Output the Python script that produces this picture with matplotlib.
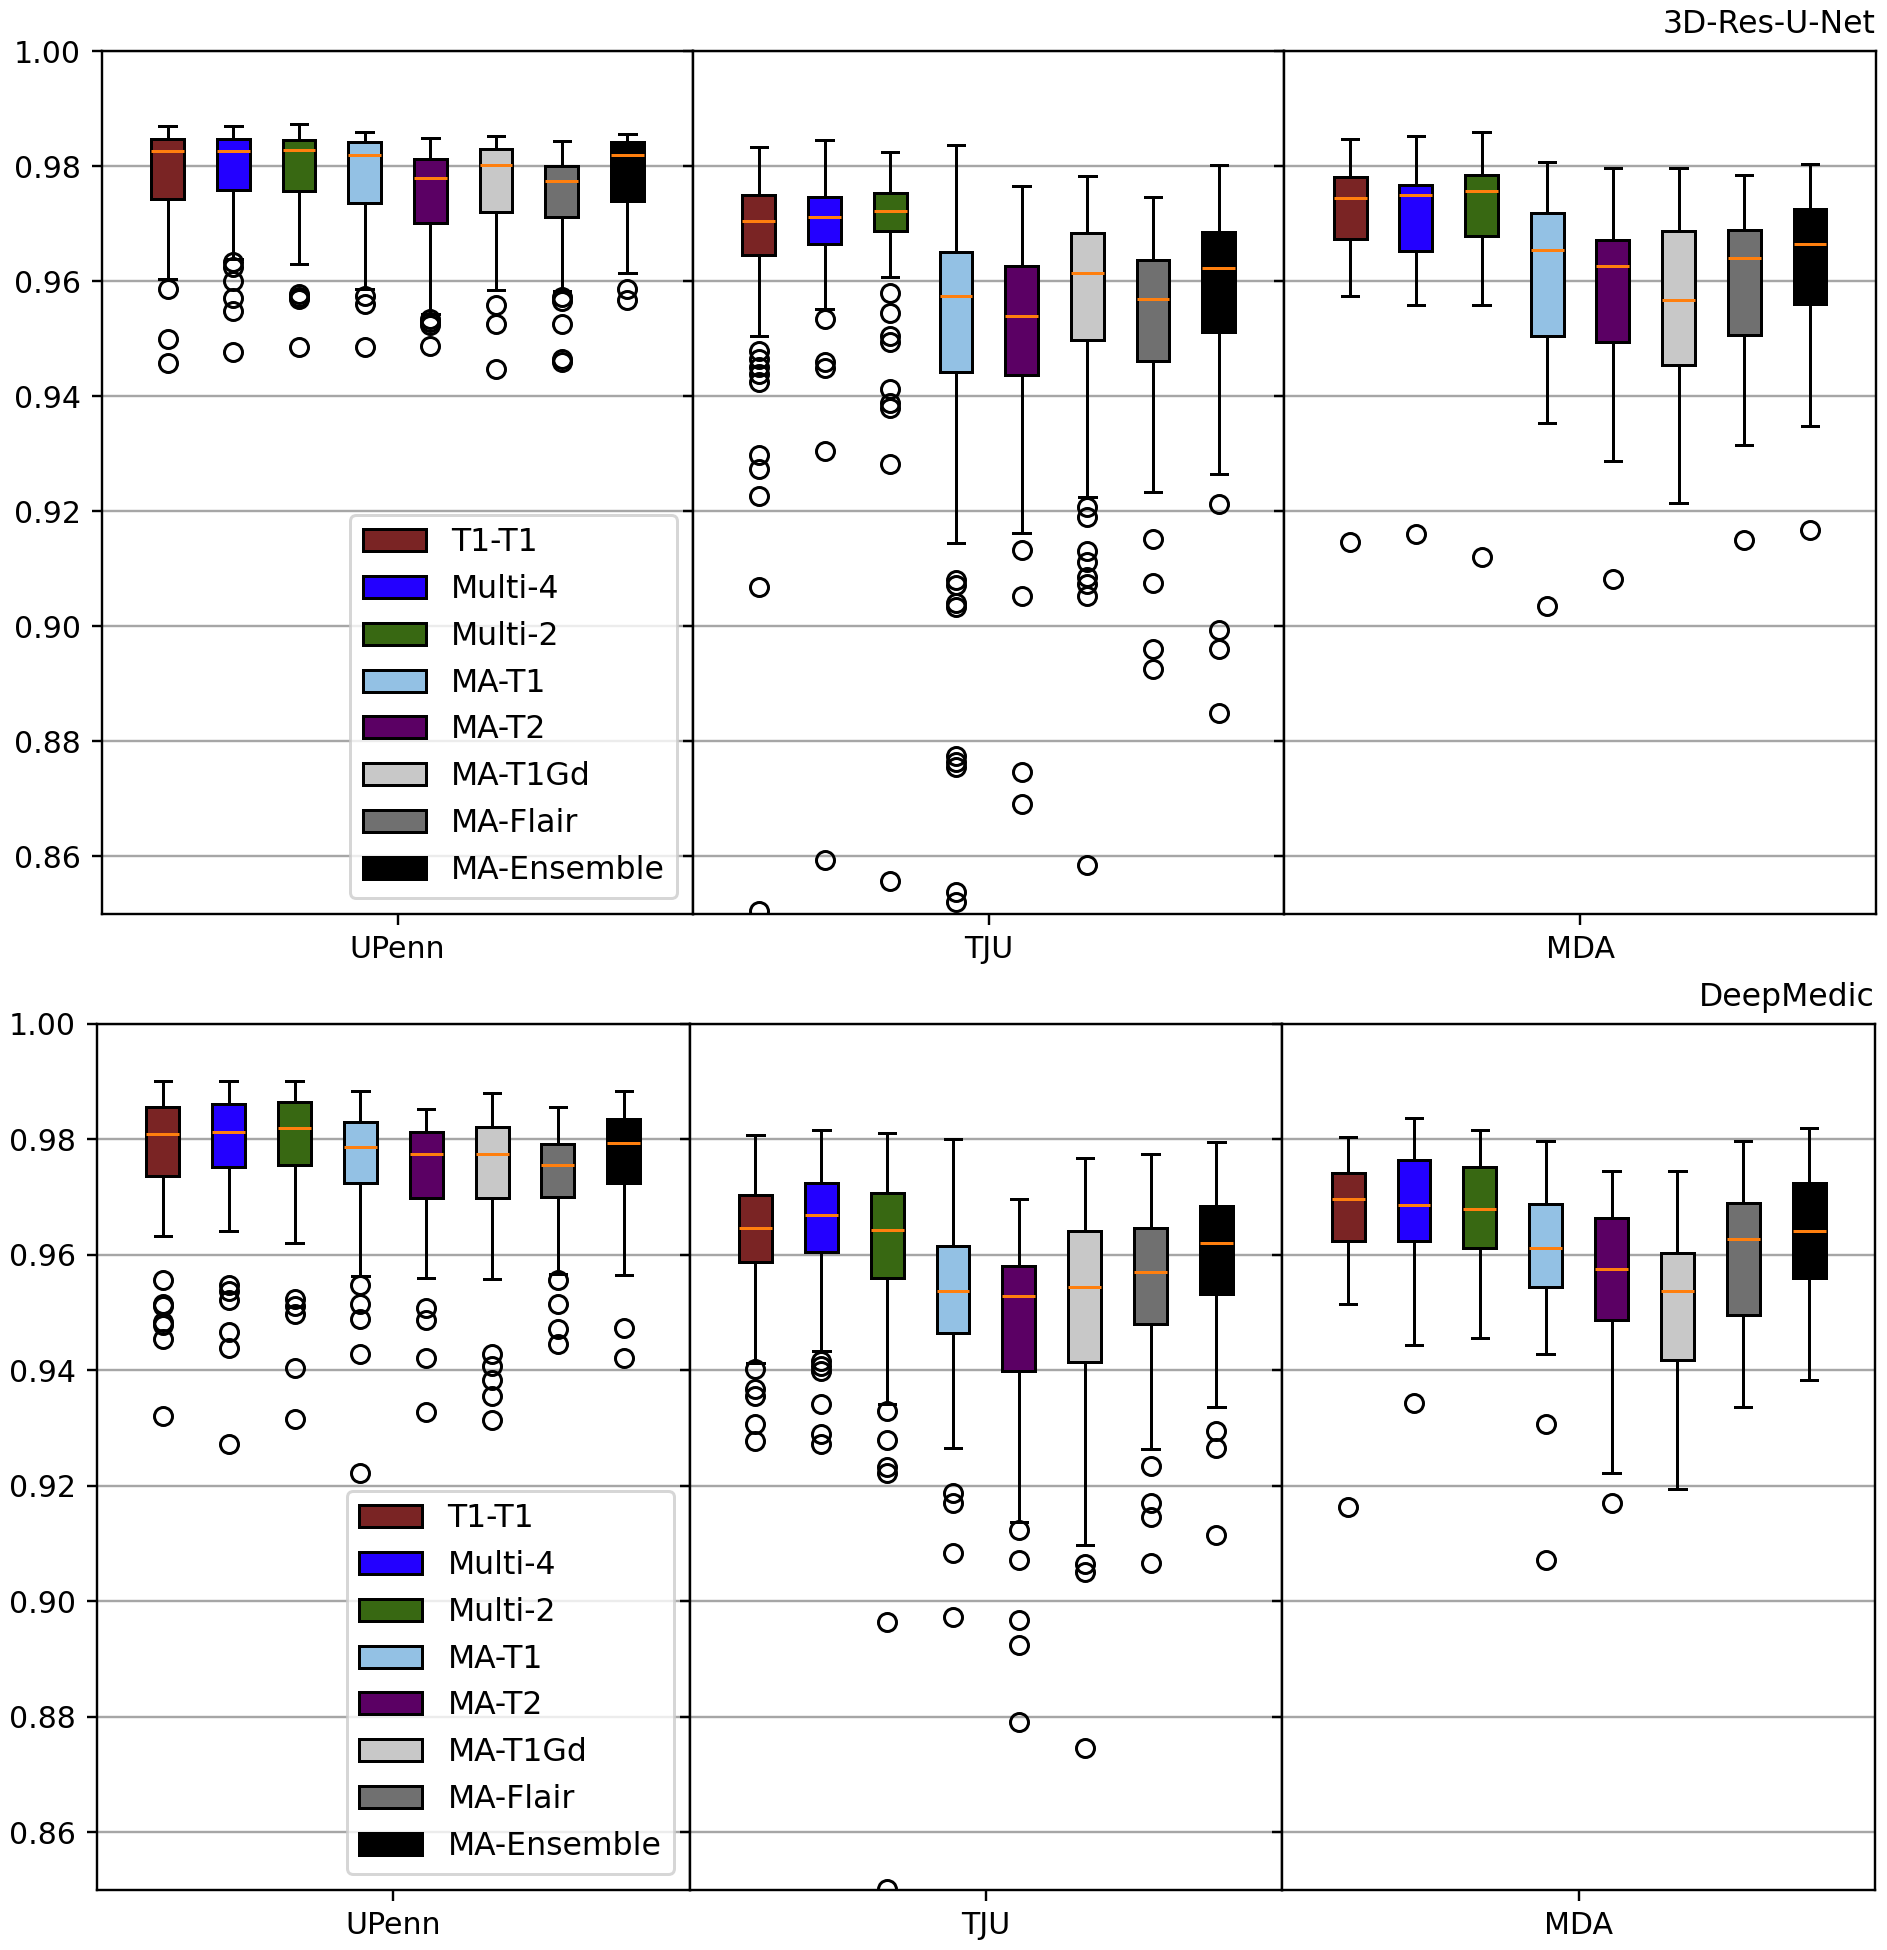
import numpy as np
import matplotlib
matplotlib.use("Agg")
import matplotlib.pyplot as plt
from matplotlib.patches import Patch

# Modelos y sitios
modelos = ['T1-T1', 'Multi-4', 'Multi-2', 'MA-T1', 'MA-T2', 'MA-T1Gd', 'MA-Flair', 'MA-Ensemble']
colores = ['#7a2424', '#2300ff', '#386812', '#93c1e4', '#5b0064', '#c8c8c8', '#707070', '#000000']
sitios = ['UPenn', 'TJU', 'MDA']

# 3D-Res-U-Net: estadisticas (por sitio, 8 modelos)
res_hi = {'UPenn': [0.9869, 0.9869, 0.9873, 0.9860, 0.9849, 0.9852, 0.9844, 0.9856],
          'TJU':   [0.9834, 0.9846, 0.9825, 0.9837, 0.9766, 0.9783, 0.9746, 0.9802],
          'MDA':   [0.9847, 0.9852, 0.9860, 0.9807, 0.9796, 0.9797, 0.9784, 0.9804]}
res_q3 = {'UPenn': [0.9848, 0.9847, 0.9845, 0.9842, 0.9813, 0.9829, 0.9800, 0.9842],
          'TJU':   [0.9750, 0.9747, 0.9753, 0.9651, 0.9627, 0.9683, 0.9637, 0.9685],
          'MDA':   [0.9781, 0.9768, 0.9785, 0.9719, 0.9672, 0.9688, 0.9689, 0.9725]}
res_med = {'UPenn': [0.9827, 0.9827, 0.9828, 0.9819, 0.9780, 0.9802, 0.9774, 0.9819],
           'TJU':   [0.9704, 0.9712, 0.9722, 0.9575, 0.9539, 0.9615, 0.9569, 0.9623],
           'MDA':   [0.9745, 0.9750, 0.9757, 0.9654, 0.9626, 0.9567, 0.9641, 0.9664]}
res_q1 = {'UPenn': [0.9743, 0.9759, 0.9756, 0.9736, 0.9701, 0.9720, 0.9711, 0.9739],
          'TJU':   [0.9646, 0.9665, 0.9688, 0.9443, 0.9437, 0.9498, 0.9462, 0.9512],
          'MDA':   [0.9674, 0.9652, 0.9678, 0.9504, 0.9495, 0.9455, 0.9506, 0.9560]}
res_lo = {'UPenn': [0.9603, 0.9639, 0.9630, 0.9587, 0.9543, 0.9585, 0.9583, 0.9614],
          'TJU':   [0.9504, 0.9551, 0.9607, 0.9145, 0.9163, 0.9225, 0.9234, 0.9265],
          'MDA':   [0.9575, 0.9559, 0.9559, 0.9354, 0.9288, 0.9214, 0.9315, 0.9348]}
res_fliers = {
    'UPenn': [[0.9587, 0.9499, 0.9457],
              [0.9633, 0.9624, 0.9601, 0.9571, 0.9549, 0.9477],
              [0.9578, 0.9572, 0.9569, 0.9485],
              [0.9575, 0.9560, 0.9486],
              [0.9534, 0.9529, 0.9523, 0.9488],
              [0.9559, 0.9526, 0.9447],
              [0.9572, 0.9566, 0.9526, 0.9465, 0.9459],
              [0.9587, 0.9567]],
    'TJU': [[0.9479, 0.9464, 0.9451, 0.9439, 0.9424, 0.9298, 0.9273, 0.9227, 0.9069, 0.8506],
            [0.9534, 0.9459, 0.9449, 0.9305, 0.8594],
            [0.9579, 0.9544, 0.9504, 0.9494, 0.9413, 0.9388, 0.9380, 0.9283, 0.8557],
            [0.9081, 0.9071, 0.9041, 0.9033, 0.8774, 0.8764, 0.8756, 0.8538, 0.8521],
            [0.9133, 0.9053, 0.8747, 0.8692],
            [0.9208, 0.9190, 0.9131, 0.9111, 0.9086, 0.9073, 0.9053, 0.8585],
            [0.9151, 0.9076, 0.8961, 0.8925],
            [0.9212, 0.8993, 0.8961, 0.8849]],
    'MDA': [[0.9146], [0.9160], [0.9120], [0.9036], [0.9082], [], [0.9150], [0.9168]]}

# DeepMedic
dm_hi = {'UPenn': [0.9901, 0.9902, 0.9902, 0.9883, 0.9853, 0.9880, 0.9857, 0.9883],
         'TJU':   [0.9807, 0.9817, 0.9811, 0.9801, 0.9696, 0.9768, 0.9775, 0.9795],
         'MDA':   [0.9805, 0.9837, 0.9817, 0.9797, 0.9745, 0.9745, 0.9797, 0.9820]}
dm_q3 = {'UPenn': [0.9856, 0.9861, 0.9865, 0.9831, 0.9813, 0.9821, 0.9792, 0.9836],
         'TJU':   [0.9704, 0.9725, 0.9708, 0.9615, 0.9581, 0.9642, 0.9646, 0.9684],
         'MDA':   [0.9742, 0.9764, 0.9753, 0.9688, 0.9664, 0.9603, 0.9689, 0.9724]}
dm_med = {'UPenn': [0.9809, 0.9813, 0.9820, 0.9787, 0.9774, 0.9774, 0.9755, 0.9794],
          'TJU':   [0.9646, 0.9669, 0.9643, 0.9538, 0.9529, 0.9544, 0.9570, 0.9621],
          'MDA':   [0.9697, 0.9687, 0.9680, 0.9612, 0.9575, 0.9538, 0.9627, 0.9641]}
dm_q1 = {'UPenn': [0.9736, 0.9753, 0.9755, 0.9724, 0.9699, 0.9699, 0.9700, 0.9724],
         'TJU':   [0.9587, 0.9605, 0.9560, 0.9465, 0.9399, 0.9414, 0.9481, 0.9533],
         'MDA':   [0.9624, 0.9624, 0.9612, 0.9544, 0.9487, 0.9418, 0.9495, 0.9560]}
dm_lo = {'UPenn': [0.9633, 0.9641, 0.9621, 0.9564, 0.9560, 0.9559, 0.9567, 0.9566],
         'TJU':   [0.9412, 0.9433, 0.9341, 0.9266, 0.9138, 0.9097, 0.9263, 0.9337],
         'MDA':   [0.9515, 0.9444, 0.9456, 0.9429, 0.9222, 0.9194, 0.9337, 0.9383]}
dm_fliers = {
    'UPenn': [[0.9557, 0.9515, 0.9511, 0.9483, 0.9478, 0.9455, 0.9321],
              [0.9547, 0.9538, 0.9521, 0.9466, 0.9439, 0.9273],
              [0.9524, 0.9512, 0.9498, 0.9404, 0.9315],
              [0.9548, 0.9515, 0.9489, 0.9428, 0.9223],
              [0.9508, 0.9488, 0.9421, 0.9328],
              [0.9428, 0.9408, 0.9383, 0.9356, 0.9314],
              [0.9556, 0.9515, 0.9472, 0.9446],
              [0.9474, 0.9421]],
    'TJU': [[0.9402, 0.9367, 0.9355, 0.9307, 0.9278],
            [0.9417, 0.9407, 0.9399, 0.9342, 0.9290, 0.9273],
            [0.9330, 0.9280, 0.9233, 0.9223, 0.8964, 0.8502],
            [0.9188, 0.9171, 0.9083, 0.8972],
            [0.9123, 0.9071, 0.8967, 0.8925, 0.8791],
            [0.9064, 0.9051, 0.8746],
            [0.9235, 0.9170, 0.9146, 0.9067],
            [0.9295, 0.9265, 0.9115]],
    'MDA': [[0.9164], [0.9343], [], [0.9307, 0.9072], [0.9171], [], [], []]}


def panel(axs, hi, q3, med, q1, lo, fliers, titulo):
    for j, (ax, sitio) in enumerate(zip(axs, sitios)):
        stats = []
        for i in range(len(modelos)):
            stats.append({'whislo': lo[sitio][i], 'q1': q1[sitio][i], 'med': med[sitio][i],
                          'q3': q3[sitio][i], 'whishi': hi[sitio][i], 'fliers': fliers[sitio][i]})
        bp = ax.bxp(stats, positions=range(1, 9), widths=0.5, patch_artist=True,
                    medianprops=dict(color='C1'))
        for caja, c in zip(bp['boxes'], colores):
            caja.set_facecolor(c)
        ax.set_xlim(0, 9)
        ax.set_xticks([4.5])
        ax.set_xticklabels([sitio])
        ax.set_ylim(0.85, 1.0)
        ax.set_yticks(np.arange(0.86, 1.001, 0.02))
        ax.yaxis.grid(True, color='0.65', linewidth=0.8)
        ax.set_axisbelow(True)
        if j > 0:
            ax.tick_params(labelleft=False)
        else:
            ax.yaxis.set_major_formatter(plt.FormatStrFormatter('%.2f'))
    axs[2].set_title(titulo, loc='right', fontsize=10.5)
    handles = [Patch(facecolor=c, edgecolor='k', label=m) for m, c in zip(modelos, colores)]
    axs[0].legend(handles=handles, loc='lower right', fontsize=10.5)


fig = plt.figure(figsize=(1887 / 216, 1950 / 216), dpi=216)
gs_top = fig.add_gridspec(1, 3, left=0.054, right=0.994, top=0.9738, bottom=0.5313, wspace=0)
gs_bot = fig.add_gridspec(1, 3, left=0.0514, right=0.9936, top=0.4749, bottom=0.0308, wspace=0)
ax_top = [fig.add_subplot(gs_top[0, k]) for k in range(3)]
ax_bot = [fig.add_subplot(gs_bot[0, k]) for k in range(3)]

panel(ax_top, res_hi, res_q3, res_med, res_q1, res_lo, res_fliers, '3D-Res-U-Net')
panel(ax_bot, dm_hi, dm_q3, dm_med, dm_q1, dm_lo, dm_fliers, 'DeepMedic')

fig.savefig('out.png', dpi=216)
